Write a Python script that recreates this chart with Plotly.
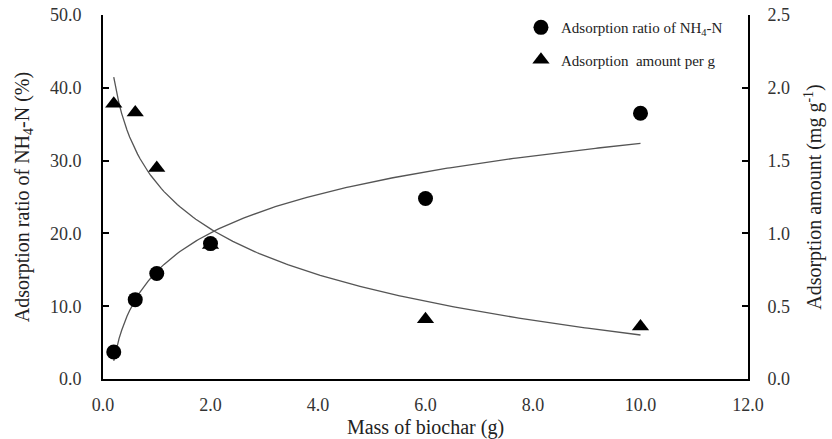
import numpy as np
import plotly.graph_objects as go

mass = [0.2, 0.6, 1.0, 2.0, 6.0, 10.0]
ratio_pct = [3.7, 10.9, 14.5, 18.6, 24.8, 36.5]
amount_per_g = [1.89, 1.83, 1.45, 0.92, 0.41, 0.36]

x_ticks = [0, 2, 4, 6, 8, 10, 12]
y1_ticks = [0, 10, 20, 30, 40, 50]
y2_ticks = [0, 0.5, 1.0, 1.5, 2.0, 2.5]

# logarithmic trend lines fitted to the data (least squares on ln x)
lx = np.log(mass)
a1, b1 = np.polyfit(lx, ratio_pct, 1)
a2, b2 = np.polyfit(lx, amount_per_g, 1)
xf = np.linspace(min(mass), max(mass), 200)

FONT = "Liberation Serif, Times New Roman, serif"
TICKFONT = dict(size=18, family=FONT, color="#333333")
TITLEFONT = dict(size=20, family=FONT, color="#222222")

fig = go.Figure()
fig.add_trace(go.Scatter(x=xf, y=a1 * np.log(xf) + b1, mode="lines",
                         line=dict(color="#555555", width=1.3), showlegend=False,
                         hoverinfo="skip"))
fig.add_trace(go.Scatter(x=xf, y=a2 * np.log(xf) + b2, mode="lines", yaxis="y2",
                         line=dict(color="#555555", width=1.3), showlegend=False,
                         hoverinfo="skip"))
fig.add_trace(go.Scatter(x=mass, y=ratio_pct, mode="markers",
                         name="Adsorption ratio of NH<sub>4</sub>-N",
                         legendgroup="a",
                         marker=dict(symbol="circle", size=15, color="black")))
fig.add_trace(go.Scatter(x=mass, y=amount_per_g, mode="markers", yaxis="y2",
                         name="Adsorption  amount per g",
                         legendgroup="b",
                         marker=dict(symbol="triangle-up", size=15, color="black")))

fig.update_layout(
    width=832, height=439,
    margin=dict(l=103, r=84, t=14, b=60),
    plot_bgcolor="white", paper_bgcolor="white",
    font=dict(family=FONT, color="#222222"),
    xaxis=dict(range=[0, 12], tickvals=x_ticks,
               ticktext=[f"{v:.1f}" for v in x_ticks],
               showline=True, linecolor="black", linewidth=2,
               showgrid=False, zeroline=False, ticks="",
               tickfont=TICKFONT, automargin=False,
               ticklabelstandoff=8,
               title=dict(text="Mass of biochar (g)", font=TITLEFONT, standoff=6)),
    yaxis=dict(range=[0, 50], tickvals=y1_ticks,
               ticktext=[f"{v:.1f}" for v in y1_ticks],
               showline=True, linecolor="black", linewidth=2,
               showgrid=False, zeroline=False, ticks="inside", ticklen=6,
               tickcolor="black", tickwidth=2,
               tickfont=TICKFONT, automargin=False,
               ticklabelstandoff=16,
               title=dict(text="Adsorption ratio of NH<sub>4</sub>-N (%)",
                          font=TITLEFONT, standoff=15)),
    yaxis2=dict(range=[0, 2.5], tickvals=y2_ticks,
                ticktext=[f"{v:.1f}" for v in y2_ticks],
                overlaying="y", side="right",
                showline=True, linecolor="black", linewidth=2,
                showgrid=False, zeroline=False, ticks="inside", ticklen=6,
                tickcolor="black", tickwidth=2,
                tickfont=TICKFONT, automargin=False,
                ticklabelstandoff=14,
                title=dict(text="Adsorption amount (mg g<sup>-1</sup>)",
                           font=TITLEFONT, standoff=18)),
    legend=dict(x=0.648, y=1.008, xanchor="left", yanchor="top",
                bgcolor="rgba(0,0,0,0)", tracegroupgap=10,
                font=dict(size=15, family=FONT, color="#222222")),
)

fig.write_html("out.html", config={"displayModeBar": False},
               post_script="document.body.style.margin='0';document.body.style.padding='0';")
